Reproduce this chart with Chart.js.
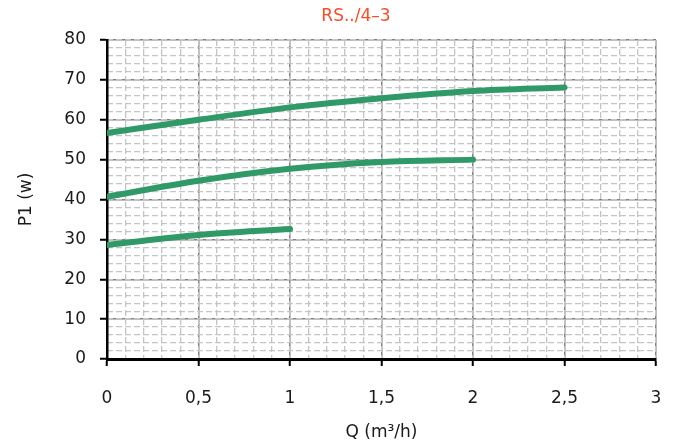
<!DOCTYPE html>
<html>
<head>
<meta charset="utf-8">
<script src="https://cdn.jsdelivr.net/npm/chart.js@4.4.0/dist/chart.umd.min.js"></script>
<style>
  html, body { margin: 0; padding: 0; background: #fff; }
  #wrap { width: 678px; height: 443px; }
</style>
</head>
<body>
<div id="wrap"><canvas id="pump-curve"></canvas></div>
<script>
// values
const flowHigh = [0, 0.5, 1, 1.5, 2, 2.5];
const powerHigh = [56.7, 60, 63.1, 65.4, 67.2, 68.1];
const flowMid = [0, 0.5, 1, 1.5, 2];
const powerMid = [40.7, 44.7, 47.7, 49.4, 50];
const flowLow = [0, 0.5, 1];
const powerLow = [28.6, 31.1, 32.6];

const chartTitle = 'RS../4–3';
const xTitle = 'Q (m³/h)';
const yTitle = 'P1 (w)';

const curveColor = '#2f9a68';
const fontFamily = "'DejaVu Sans', sans-serif";

const toPoints = (xs, ys) => xs.map((x, i) => ({ x: x, y: ys[i] }));

const curve = (xs, ys) => ({
  data: toPoints(xs, ys),
  borderColor: curveColor,
  borderWidth: 6,
  borderCapStyle: 'round',
  pointRadius: 0,
  cubicInterpolationMode: 'monotone',
  clip: { left: 0, right: 10, top: 10, bottom: 10 },
});

// title sits a bit right of center in the original
const titlePlugin = {
  id: 'sheetTitle',
  afterDraw(chart) {
    const ctx = chart.ctx;
    ctx.save();
    ctx.font = '17px ' + fontFamily;
    ctx.fillStyle = '#ff4a26';
    ctx.textAlign = 'center';
    ctx.textBaseline = 'middle';
    ctx.fillText(chartTitle, 356, 17);
    ctx.restore();
  },
};

const minorAxis = (axis, pos, step, max) => ({
  type: 'linear',
  axis: axis,
  position: pos,
  min: 0,
  max: max,
  z: -1,
  ticks: { display: false, stepSize: step },
  grid: { color: '#c4c4c4', lineWidth: 1.3, drawTicks: false },
  border: { display: false, dash: [6, 3] },
  afterFit(scale) {
    if (axis === 'x') scale.height = 0; else scale.width = 0;
  },
});

new Chart(document.getElementById('pump-curve'), {
  type: 'line',
  data: {
    datasets: [
      curve(flowHigh, powerHigh),
      curve(flowMid, powerMid),
      curve(flowLow, powerLow),
    ],
  },
  plugins: [titlePlugin],
  options: {
    responsive: true,
    maintainAspectRatio: false,
    animation: false,
    layout: { padding: { top: 40, right: 22, left: 0, bottom: 0 } },
    plugins: {
      legend: { display: false },
      tooltip: { enabled: false },
    },
    scales: {
      x: {
        type: 'linear',
        position: 'bottom',
        min: 0,
        max: 3,
        ticks: {
          stepSize: 0.5,
          padding: 22,
          color: '#1a1a1a',
          font: { family: fontFamily, size: 17 },
          callback: (v) => String(v).replace('.', ','),
        },
        grid: { color: '#828282', lineWidth: 1.5, tickLength: 7, tickColor: '#000', tickWidth: 2 },
        border: { color: '#000', width: 3 },
        title: {
          display: true,
          text: xTitle,
          color: '#1a1a1a',
          font: { family: fontFamily, size: 17 },
          padding: { top: 6, bottom: 0 },
        },
        afterFit(scale) {
          scale.height = 84;
          // tick padding should not push the plot in from the sides
          scale.paddingLeft = 0;
          scale.paddingRight = 0;
        },
      },
      y: {
        type: 'linear',
        position: 'left',
        min: 0,
        max: 80,
        ticks: {
          stepSize: 10,
          padding: 14,
          color: '#1a1a1a',
          font: { family: fontFamily, size: 17 },
        },
        grid: { color: '#828282', lineWidth: 1.5, tickLength: 7, tickColor: '#000', tickWidth: 2 },
        border: { color: '#000', width: 2.5 },
        title: {
          display: true,
          text: yTitle,
          color: '#1a1a1a',
          font: { family: fontFamily, size: 17 },
          padding: { top: 16, bottom: 0 },
        },
        afterFit(scale) { scale.width = 107; },
      },
      xMinor: minorAxis('x', 'top', 0.1, 3),
      yMinor: minorAxis('y', 'right', 2, 80),
    },
  },
});
</script>
</body>
</html>
